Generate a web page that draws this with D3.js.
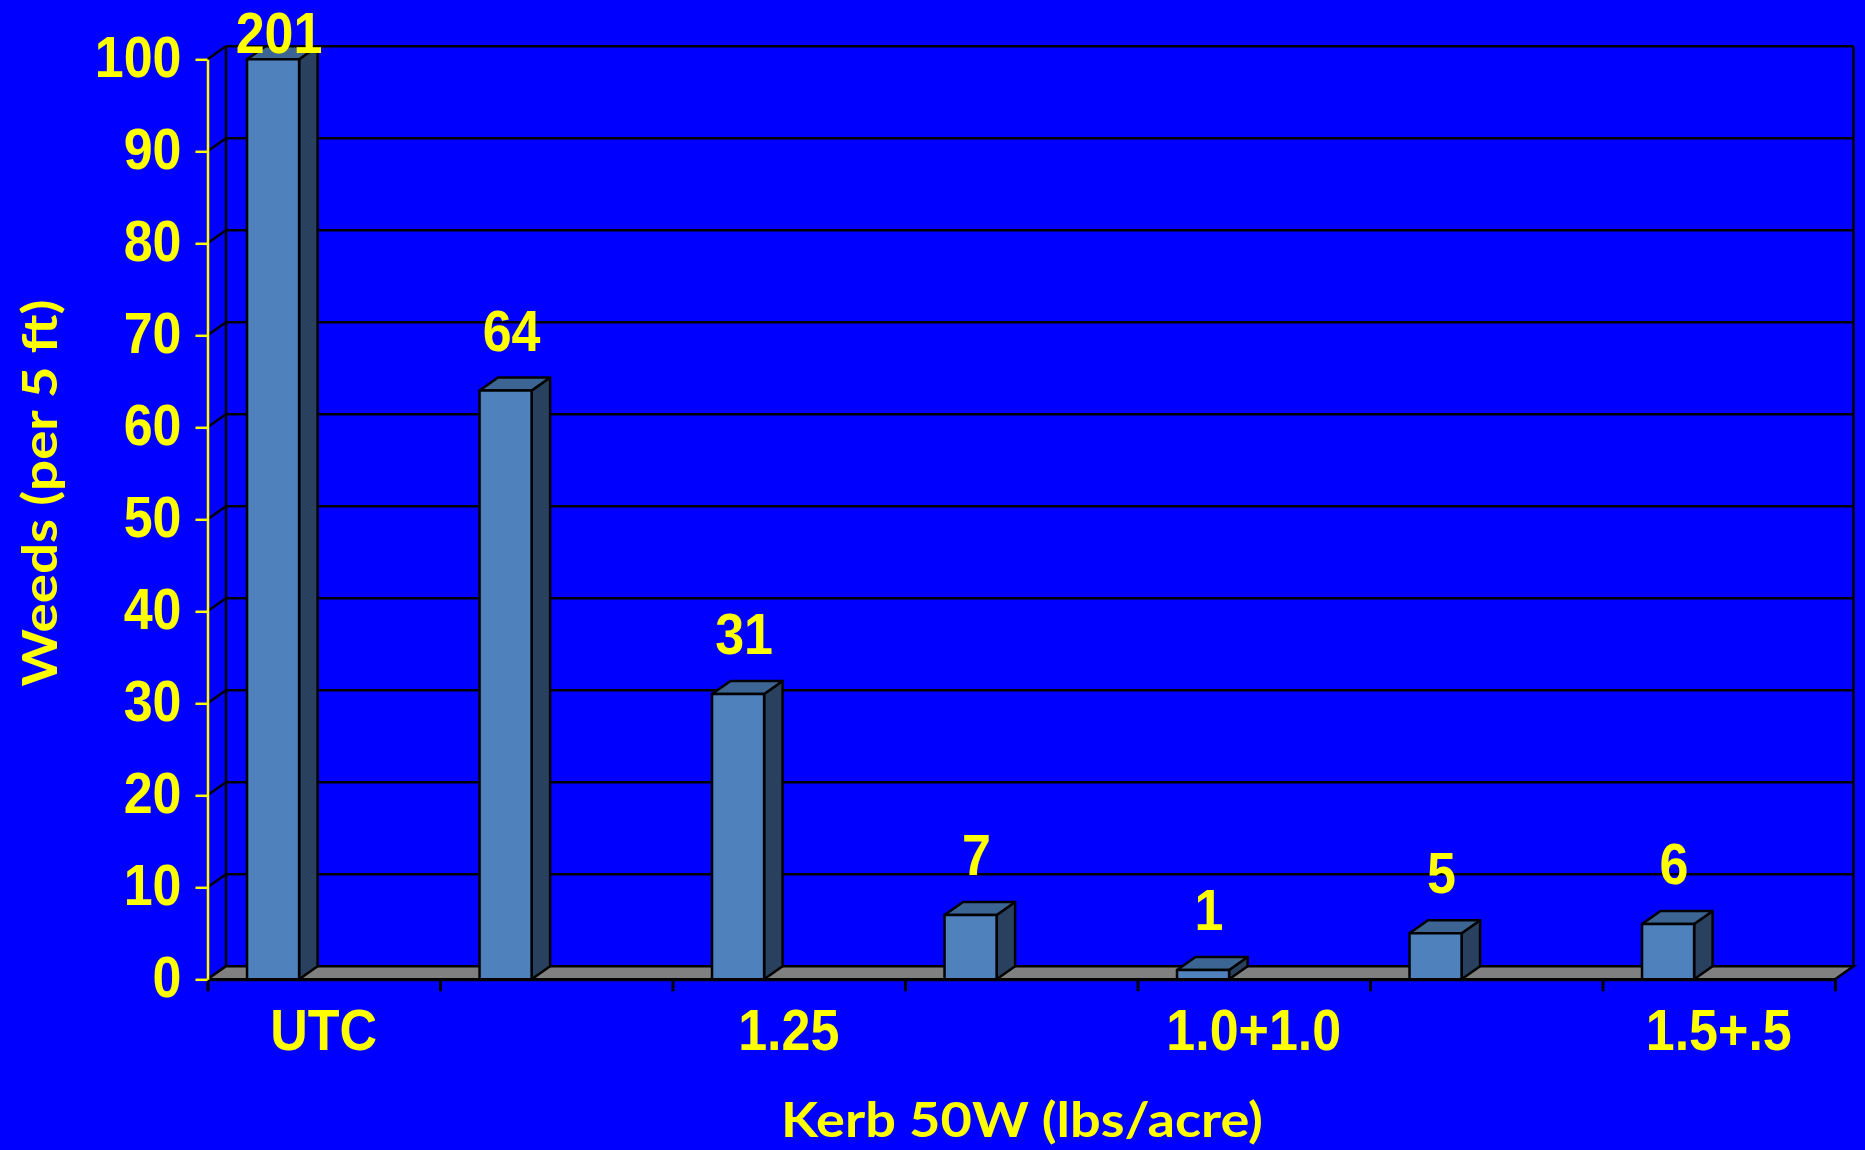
<!DOCTYPE html>
<html lang="en">
<head>
    <meta charset="utf-8" />
    <title>Kerb 50W weeds</title>
    <script src="https://d3js.org/d3.v7.min.js"></script>
    <style>
        body { margin: 0; background: #0000ff; }
        svg { display: block; }
        .tick-label { font-family: "Liberation Sans", Arial, sans-serif; font-weight: bold; fill: #ffff00; }
        .title { font-family: Lato, "Open Sans", sans-serif; font-weight: bold; fill: #ffff00; }
    </style>
</head>
<body>
<svg width="1865" height="1150"></svg>
<script>
    // data
    var tickLabels = ["UTC", "", "1.25", "", "1.0+1.0", "", "1.5+.5"];
    var weeds = [201, 64, 31, 7, 1, 5, 6];
    var yTicks = [0, 10, 20, 30, 40, 50, 60, 70, 80, 90, 100];

    var svg = d3.select("svg");
    svg.append("rect").attr("width", 1865).attr("height", 1150).attr("fill", "#0000ff");

    var x0 = 207.5, x1 = 1835,
        yBottom = 979.3, yTop = 59.3,
        dx = 18.5, dy = -13; // 3d depth

    var x = d3.scaleBand().domain(d3.range(weeds.length)).range([x0, x1]).padding(0);
    var xEdges = d3.scaleLinear().domain([0, weeds.length]).range([x0, x1]);
    var y = d3.scaleLinear().domain([0, 100]).range([yBottom, yTop]).clamp(true);

    // back wall grid
    var grid = svg.append("g").attr("stroke", "#000").attr("stroke-width", 2.5).attr("fill", "none");
    grid.selectAll(".hline").data(yTicks).enter().append("line")
        .attr("x1", x0 + dx).attr("x2", x1 + dx)
        .attr("y1", function (d) { return y(d) + dy; })
        .attr("y2", function (d) { return y(d) + dy; });
    grid.selectAll(".diag").data(yTicks).enter().append("line")
        .attr("x1", x0).attr("x2", x0 + dx)
        .attr("y1", function (d) { return y(d); })
        .attr("y2", function (d) { return y(d) + dy; });
    grid.append("line").attr("x1", x0 + dx).attr("x2", x0 + dx).attr("y1", y(100) + dy).attr("y2", y(0) + dy);
    grid.append("line").attr("x1", x1 + dx).attr("x2", x1 + dx).attr("y1", y(100) + dy).attr("y2", y(0) + dy);

    // floor
    svg.append("polygon")
        .attr("points", [[x0, y(0)], [x0 + dx, y(0) + dy], [x1 + dx, y(0) + dy], [x1, y(0)]].join(" "))
        .attr("fill", "#808080").attr("stroke", "#000").attr("stroke-width", 2.5);

    // x axis (ticks at category edges)
    var xAxis = svg.append("g")
        .attr("transform", "translate(0," + y(0) + ")")
        .call(d3.axisBottom(xEdges).ticks(weeds.length).tickFormat("").tickSize(12).tickSizeOuter(0));
    xAxis.selectAll("line, path").attr("stroke", "#000").attr("stroke-width", 3);

    var xLabels = svg.append("g")
        .attr("transform", "translate(0," + y(0) + ")")
        .call(d3.axisBottom(x).tickFormat(function (d) { return tickLabels[d]; }).tickSize(0).tickPadding(0));
    xLabels.select(".domain").remove();
    xLabels.selectAll("text")
        .attr("class", "tick-label")
        .attr("font-size", 52)
        .attr("y", 0).attr("dy", 0)
        .attr("transform", "translate(0,71) scale(1,1.1)");

    // bars
    var bw = x.bandwidth() * 0.224, boff = x.bandwidth() * 0.17;
    var bars = svg.selectAll(".bar").data(weeds).enter().append("g").attr("class", "bar")
        .attr("stroke", "#000").attr("stroke-width", 2.5).attr("stroke-linejoin", "round");
    bars.append("polygon")
        .attr("fill", "#29415f")
        .attr("points", function (d, i) {
            var bx = x(i) + boff + bw, t = y(d), b = y(0);
            return [[bx, t], [bx + dx, t + dy], [bx + dx, b + dy], [bx, b]].join(" ");
        });
    bars.append("polygon")
        .attr("fill", "#3d6594")
        .attr("points", function (d, i) {
            var bx = x(i) + boff, t = y(d);
            return [[bx, t], [bx + dx, t + dy], [bx + bw + dx, t + dy], [bx + bw, t]].join(" ");
        });
    bars.append("rect")
        .attr("fill", "#4f81bd")
        .attr("x", function (d, i) { return x(i) + boff; })
        .attr("y", function (d) { return y(d); })
        .attr("width", bw)
        .attr("height", function (d) { return y(0) - y(d); });

    // value labels
    svg.selectAll(".val").data(weeds).enter().append("text")
        .attr("class", "tick-label")
        .attr("font-size", 52)
        .attr("text-anchor", "middle")
        .attr("transform", function (d, i) {
            var lx = x(i) + boff + bw / 2 + 6;
            var ly = Math.max(y(d) - 40, 53);
            return "translate(" + lx + "," + ly + ") scale(1,1.1)";
        })
        .text(function (d) { return d; });

    // y axis
    var yAxis = svg.append("g")
        .attr("transform", "translate(" + x0 + ",0)")
        .call(d3.axisLeft(y).tickValues(yTicks).tickSize(12).tickSizeOuter(0).tickPadding(14));
    yAxis.selectAll("line, path").attr("stroke", "#ffff00").attr("stroke-width", 2.5);
    yAxis.selectAll("text")
        .attr("class", "tick-label")
        .attr("font-size", 52)
        .attr("dy", "0.3em")
        .attr("transform", "scale(1,1.1)");

    // titles
    svg.append("text")
        .attr("class", "title")
        .attr("font-size", 48)
        .attr("text-anchor", "middle")
        .attr("x", 1022).attr("y", 1137)
        .attr("textLength", 482).attr("lengthAdjust", "spacingAndGlyphs")
        .text("Kerb 50W (lbs/acre)");

    svg.append("text")
        .attr("class", "title")
        .attr("font-size", 48)
        .attr("text-anchor", "middle")
        .attr("transform", "translate(57,493) rotate(-90)")
        .attr("textLength", 387).attr("lengthAdjust", "spacingAndGlyphs")
        .text("Weeds (per 5 ft)");
</script>
</body>
</html>
